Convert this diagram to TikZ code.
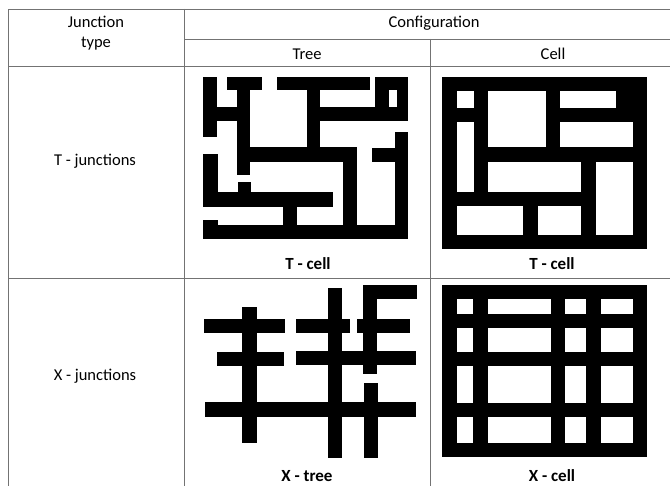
\documentclass[tikz,border=0pt]{standalone}
\usepackage{fontspec}
\setmainfont{Carlito}
\usetikzlibrary{positioning}

\begin{document}
\begin{tikzpicture}[
  x=1pt,y=-1pt,
  rule/.style={draw=black!55,line width=.8pt},
  head/.style={font=\fontsize{16.5}{20}\selectfont,inner sep=0pt,align=center},
  caption/.style={font=\fontsize{17}{20}\selectfont\bfseries,inner sep=0pt},
  wall/.style={fill=black},
  hole/.style={fill=white}
]
  \useasboundingbox (0,0) rectangle (670,486);
  \fill[white] (0,0) rectangle (670,486);

  % table rules
  \draw[rule] (8,486) -- (8,9) -- (670,9);
  \draw[rule] (184,9) -- (184,486);
  \draw[rule] (184,39) -- (670,39);
  \draw[rule] (8,66) -- (670,66);
  \draw[rule] (430,39) -- (430,486);
  \draw[rule] (8,278) -- (670,278);

  % header and row titles
  \node[head] (jtype) at (96,33) {Junction\\type};
  \node[head] (config) at (434,23) {Configuration};
  \node[head] (tree) at (307,54) {Tree};
  \node[head] (cell) at (553,54) {Cell};
  \node[head] (tjunc) at (95,161) {T - junctions};
  \node[head] (xjunc) at (95,376) {X - junctions};

  % T - tree maze
  \fill[wall] (203.3,76.7) rectangle (216.7,136.7);
  \fill[wall] (216.7,107.3) rectangle (236.7,120.7);
  \fill[wall] (236.7,76.7) rectangle (250,175);
  \fill[wall] (226.7,76.7) rectangle (261.7,90);
  \fill[wall] (276.7,76.7) rectangle (370,90);
  \fill[wall] (306.7,90) rectangle (320,146.7);
  \fill[wall] (250,146.7) rectangle (356.7,161.7);
  \fill[wall] (343.3,146.7) rectangle (356.7,238.3);
  \fill[wall] (375,76.7) rectangle (408.3,120.7);
  \fill[hole] (389.3,90) rectangle (396.7,108.3);
  \fill[wall] (320,107.3) rectangle (408.3,120.7);
  \fill[wall] (395,132.3) rectangle (408.3,238.3);
  \fill[wall] (371.7,147.7) rectangle (395,161.7);
  \fill[wall] (203.3,225) rectangle (408.3,239);
  \fill[wall] (203.3,220) rectangle (217.7,239);
  \fill[wall] (203.3,154.3) rectangle (217.7,206.7);
  \fill[wall] (203.3,192.3) rectangle (333.3,206.7);
  \fill[wall] (237.7,181.7) rectangle (251,192.3);
  \fill[wall] (283.3,206.7) rectangle (296.7,225);
  \node[caption] (tcellA) at (308,264) {T - cell};

  % T - cell maze
  \fill[wall] (442,77) rectangle (647,249);
  \fill[hole] (456.7,90.7) rectangle (474,107.7);
  \fill[hole] (488.3,90.7) rectangle (545.7,147.3);
  \fill[hole] (560,90.7) rectangle (615.7,107.7);
  \fill[hole] (456.7,122.3) rectangle (474,191.7);
  \fill[hole] (560,122.3) rectangle (633.3,147.3);
  \fill[hole] (488.3,161.7) rectangle (581,191.7);
  \fill[hole] (595.7,161.7) rectangle (633.3,235);
  \fill[hole] (456.7,206) rectangle (523.3,235);
  \fill[hole] (537.7,206) rectangle (581,235);
  \node[caption] (tcellB) at (552,264) {T - cell};

  % X - tree maze
  \fill[wall] (241.7,306.7) rectangle (256.7,442.7);
  \fill[wall] (204.3,319) rectangle (285,333.3);
  \fill[wall] (216.7,351.7) rectangle (284.3,365.7);
  \fill[wall] (205,402.3) rectangle (415.7,416.7);
  \fill[wall] (328.3,288.3) rectangle (341.7,457.7);
  \fill[wall] (295.7,319) rectangle (350,333.3);
  \fill[wall] (295.7,351) rectangle (415.7,365);
  \fill[wall] (362.7,285) rectangle (376.7,374.3);
  \fill[wall] (362.7,285) rectangle (416.7,299.3);
  \fill[wall] (357.3,319) rectangle (410,333.3);
  \fill[wall] (364,383.3) rectangle (377.7,457.7);
  \node[caption] (xtree) at (307,476) {X - tree};

  % X - cell maze
  \fill[wall] (442,285) rectangle (647,457.3);
  \foreach \xa/\xb in {456.7/473.3,487.7/550.7,565/586,600.7/633.3}
    \foreach \ya/\yb in {299/314.3,328.3/351.7,365.7/402.7,417/443.3}
      \fill[hole] (\xa,\ya) rectangle (\xb,\yb);
  \node[caption] (xcell) at (552,476) {X - cell};
\end{tikzpicture}
\end{document}
